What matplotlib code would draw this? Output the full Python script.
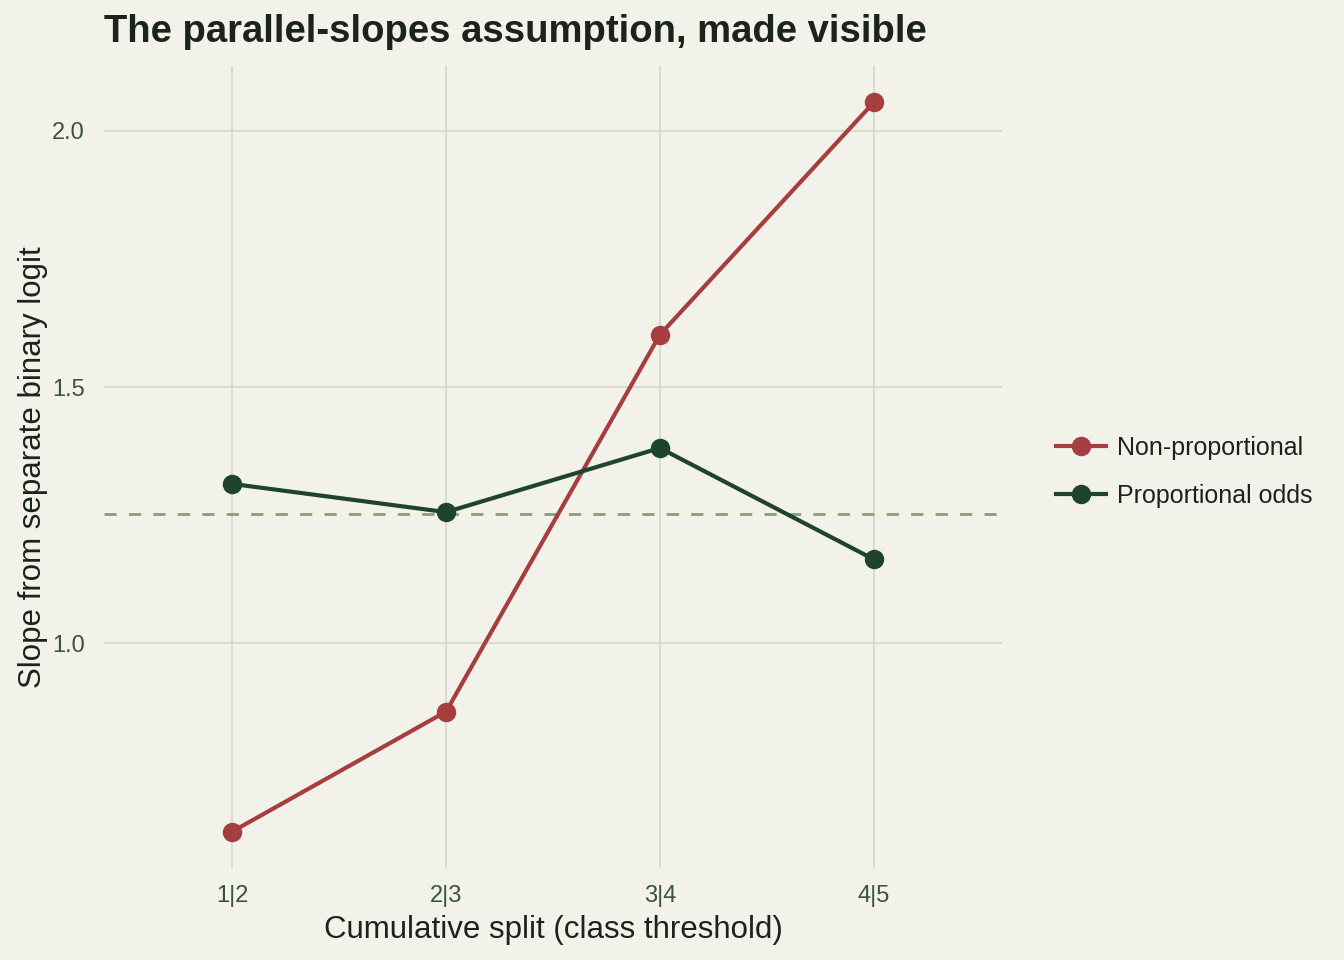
import matplotlib
matplotlib.use("Agg")
import matplotlib.pyplot as plt

splits = ["1|2", "2|3", "3|4", "4|5"]
non_prop = [0.633, 0.867, 1.602, 2.055]
prop_odds = [1.311, 1.256, 1.381, 1.164]
ref_slope = 1.252
series_names = ["Non-proportional", "Proportional odds"]

BG = "#F2F2EB"
GRID = "#D6D6C8"
RED = "#A63E40"
GREEN = "#1E432F"
DASH = "#8A9E72"
TEXT = "#1A241C"
TICK = "#3A5240"

plt.rcParams['font.family'] = ['Liberation Sans', 'DejaVu Sans']

fig = plt.figure(figsize=(13.44, 9.6), dpi=100, facecolor=BG)
ax = fig.add_axes([104/1344, 1 - 868/960, (1002-104)/1344, (868-66)/960])
ax.set_facecolor(BG)

x = list(range(len(splits)))
ax.axhline(ref_slope, color=DASH, lw=2, ls=(0, (4.4, 4.4)), zorder=2)
ax.plot(x, non_prop, color=RED, lw=3, marker='o', ms=13, label=series_names[0], zorder=3)
ax.plot(x, prop_odds, color=GREEN, lw=3, marker='o', ms=13, label=series_names[1], zorder=3)

ax.set_xlim(-0.6, len(splits) - 0.4)
lo, hi = min(non_prop + prop_odds), max(non_prop + prop_odds)
pad = (hi - lo) * 0.05
ax.set_ylim(lo - pad, hi + pad)
ax.set_xticks(x)
ax.set_xticklabels(splits)
ax.set_yticks([1.0, 1.5, 2.0])
ax.set_yticklabels(["1.0", "1.5", "2.0"])
ax.grid(True, color=GRID, lw=1.2)
ax.set_axisbelow(True)
for s in ax.spines.values():
    s.set_visible(False)
ax.tick_params(axis='x', length=0, labelsize=17, colors=TICK, pad=12)
ax.tick_params(axis='y', length=0, labelsize=17, colors=TICK, pad=14)

ax.set_xlabel("Cumulative split (class threshold)", fontsize=22.5, color=TEXT, labelpad=6)
ax.set_ylabel("Slope from separate binary logit", fontsize=22.5, color=TEXT, labelpad=3)
fig.text(104/1344, 1 - 32/960, "The parallel-slopes assumption, made visible",
         fontsize=27.5, fontweight='bold', color=TEXT, ha='left', va='center')

leg = ax.legend(loc='center left', bbox_to_anchor=(1.035, 0.494), frameon=False,
                fontsize=18, handlelength=2.0, labelspacing=0.95, handletextpad=0.45,
                labelcolor=TEXT)

fig.savefig("out.png", dpi=100, facecolor=BG)
